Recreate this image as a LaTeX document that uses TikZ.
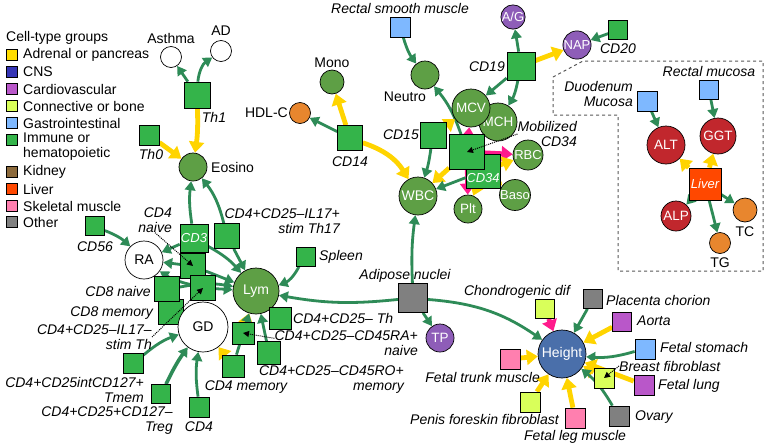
\documentclass[tikz,border=0pt]{standalone}
\usepackage{fontspec}
\setmainfont{Liberation Sans}
\usetikzlibrary{arrows.meta,calc}
\pgfdeclarelayer{bgw}
\pgfdeclarelayer{bg}
\pgfsetlayers{bgw,bg,main}
\definecolor{cAdr}{HTML}{FFDD00}
\definecolor{cCNS}{HTML}{3535B5}
\definecolor{cCard}{HTML}{B957C9}
\definecolor{cConn}{HTML}{D9FF5A}
\definecolor{cGas}{HTML}{7EB8FF}
\definecolor{cImm}{HTML}{34B44A}
\definecolor{cKid}{HTML}{8C6A3C}
\definecolor{cLiv}{HTML}{FF4800}
\definecolor{cSkel}{HTML}{FF7FAF}
\definecolor{cOth}{HTML}{808080}
\definecolor{cBlood}{HTML}{5E9F45}
\definecolor{cOrg}{HTML}{E8862E}
\definecolor{cPur}{HTML}{8E5DB8}
\definecolor{cRed}{HTML}{C1272D}
\definecolor{cHgt}{HTML}{4A6FAA}
\definecolor{eG}{HTML}{2E8B57}
\definecolor{eY}{HTML}{FFD400}
\definecolor{eM}{HTML}{FF1A8C}
\begin{document}
\begin{tikzpicture}[x=1pt,y=-1pt,font=\fontsize{14}{15}\selectfont,
  tr/.style={circle,draw=black,line width=0.7pt,inner sep=0pt,minimum size=#1,text=white,font=\fontsize{13.5}{14}\selectfont},
  wc/.style={circle,draw=black,line width=0.7pt,inner sep=0pt,minimum size=#1,fill=white,text=black,font=\fontsize{14}{14}\selectfont},
  bx/.style={rectangle,draw=black,line width=0.7pt,inner sep=0pt,minimum size=#1},
  lab/.style={inner sep=0pt,font=\fontsize{14}{15}\selectfont\itshape},
  nl/.style={inner sep=0pt},
  ge/.style={draw=eG,line width=2.8pt,-{Triangle[width=10.5pt,length=9pt]}},
  ye/.style={draw=eY,line width=4.8pt,-{Triangle[width=15pt,length=11pt]}},
  me/.style={draw=eM,line width=4.8pt,-{Triangle[width=15pt,length=11pt]}},
  da/.style={densely dotted,line width=1pt,-{Triangle[width=6pt,length=6pt]}}]
\begin{pgfonlayer}{bgw}
\fill[white] (0,0) rectangle (768,445);
\end{pgfonlayer}
\useasboundingbox (0,0) rectangle (768,445);

% legend
\node[nl,anchor=west] (lgT) at (6,38) {Cell-type groups};
\node[bx=11pt,fill=cAdr] (lg1) at (11.5,55) {}; \node[nl,anchor=west] (lt1) at (23,55) {Adrenal or pancreas};
\node[bx=11pt,fill=cCNS] (lg2) at (11.5,72) {}; \node[nl,anchor=west] (lt2) at (23,72) {CNS};
\node[bx=11pt,fill=cCard] (lg3) at (11.5,89) {}; \node[nl,anchor=west] (lt3) at (23,89) {Cardiovascular};
\node[bx=11pt,fill=cConn] (lg4) at (11.5,106) {}; \node[nl,anchor=west] (lt4) at (23,106) {Connective or bone};
\node[bx=11pt,fill=cGas] (lg5) at (11.5,123) {}; \node[nl,anchor=west] (lt5) at (23,123) {Gastrointestinal};
\node[bx=11pt,fill=cImm] (lg6) at (11.5,140) {}; \node[nl,anchor=north west,align=left] (lt6) at (23,133) {Immune or\\hematopoietic};
\node[bx=11pt,fill=cKid] (lg7) at (11.5,172) {}; \node[nl,anchor=west] (lt7) at (23,172) {Kidney};
\node[bx=11pt,fill=cLiv] (lg8) at (11.5,189) {}; \node[nl,anchor=west] (lt8) at (23,189) {Liver};
\node[bx=11pt,fill=cSkel] (lg9) at (11.5,206) {}; \node[nl,anchor=west] (lt9) at (23,206) {Skeletal muscle};
\node[bx=11pt,fill=cOth] (lg10) at (11.5,222) {}; \node[nl,anchor=west] (lt10) at (23,222) {Other};

% top-left
\node[wc=21pt] (Asthma) at (171,57) {}; \node[nl] (tAsthma) at (171,38) {Asthma};
\node[wc=21pt] (AD) at (221,51) {}; \node[nl] (tAD) at (221,31) {AD};
\node[bx=26pt,fill=cImm] (Th1) at (197,95) {}; \node[lab] (tTh1) at (214,117) {Th1};
\node[bx=20pt,fill=cImm] (Th0) at (149,135) {}; \node[lab] (tTh0) at (151,154) {Th0};
\node[tr=28pt,fill=cBlood] (Eos) at (193,167) {}; \node[nl,anchor=west] (tEos) at (211,167) {Eosino};

% RA / GD / Lym cluster
\node[bx=19pt,fill=cImm] (CD56) at (95,226) {}; \node[lab] (tCD56) at (95,247) {CD56};
\node[wc=38pt] (RA) at (144,260) {RA};
\node[lab,align=right,anchor=east] (tCD4n) at (172,220) {CD4\\naive};
\node[bx=25pt,fill=cImm] (CD8m) at (171,312) {}; \node[lab,anchor=east] (tCD8m) at (153,313) {CD8 memory};
\node[bx=25pt,fill=cImm] (CD8n) at (167,289) {}; \node[lab,anchor=east] (tCD8n) at (151,291) {CD8 naive};
\node[bx=25pt,fill=cImm] (CD4n) at (193,266) {};
\node[bx=25pt,fill=cImm] (StTh) at (203,288) {};
\node[bx=28pt,fill=cImm,text=white,font=\fontsize{13}{13}\selectfont\itshape] (CD3) at (194,238) {CD3};
\node[bx=25pt,fill=cImm] (Th17) at (227,236) {};
\node[lab,align=right,anchor=east] (tTh17) at (340,221) {CD4+CD25–IL17+\\stim Th17};
\node[wc=50pt] (GD) at (203,327) {GD};
\node[lab,align=right,anchor=east] (tStTh) at (152,337) {CD4+CD25–IL17–\\stim Th};
\node[bx=20pt,fill=cImm] (Tmem) at (133,363) {}; \node[lab,align=right,anchor=east] (tTmem) at (144,390) {CD4+CD25intCD127+\\Tmem};
\node[bx=19pt,fill=cImm] (Treg) at (161,394) {}; \node[lab,align=right,anchor=east] (tTreg) at (173,421) {CD4+CD25+CD127–\\Treg};
\node[bx=20pt,fill=cImm] (CD4) at (199,407) {}; \node[lab] (tCD4) at (199,427) {CD4};
\node[tr=46pt,fill=cBlood,font=\fontsize{14}{14}\selectfont] (Lym) at (256,291) {Lym};
\node[bx=19pt,fill=cImm] (Spl) at (306,257) {}; \node[lab,anchor=west] (tSpl) at (319,257) {Spleen};
\node[bx=22pt,fill=cImm] (ThSq) at (280,318) {}; \node[lab,anchor=west] (tThSq) at (293,318) {CD4+CD25– Th};
\node[bx=22pt,fill=cImm] (RAsq) at (243,333) {}; \node[lab,align=right,anchor=east] (tRAsq) at (418,343) {CD4+CD25–CD45RA+\\naive};
\node[bx=23pt,fill=cImm] (ROsq) at (269,353) {}; \node[lab,align=right,anchor=east] (tROsq) at (404,380) {CD4+CD25–CD45RO+\\memory};
\node[bx=22pt,fill=cImm] (CD4m) at (233,366) {}; \node[lab] (tCD4m) at (246,387) {CD4 memory};

\node[bx=29pt,fill=cOth] (Adip) at (413,298) {}; \node[lab] (tAdip) at (405,276) {Adipose nuclei};
\node[tr=28pt,fill=cPur] (TP) at (440,338) {TP};

% upper middle
\node[bx=20pt,fill=cGas] (RSM) at (400,27) {}; \node[lab] (tRSM) at (400,8) {Rectal smooth muscle};
\node[tr=28pt,fill=cBlood] (Neu) at (425,75) {}; \node[nl] (tNeu) at (405,97) {Neutro};
\node[tr=24pt,fill=cBlood] (Mono) at (332,82) {}; \node[nl] (tMono) at (332,63) {Mono};
\node[tr=21pt,fill=cOrg] (HDL) at (300,113) {}; \node[nl,anchor=east] (tHDL) at (288,113) {HDL-C};
\node[bx=25pt,fill=cImm] (CD14) at (350,138) {}; \node[lab] (tCD14) at (350,162) {CD14};
\node[bx=26pt,fill=cImm] (CD15) at (433,135) {}; \node[lab,anchor=east] (tCD15) at (419,135) {CD15};
\node[tr=38pt,fill=cBlood,font=\fontsize{14}{14}\selectfont] (WBC) at (418,196) {WBC};
\node[tr=28pt,fill=cBlood] (Plt) at (468,209) {Plt};
\node[tr=30pt,fill=cBlood,font=\fontsize{13}{13}\selectfont] (Baso) at (515,195) {Baso};
\node[tr=30pt,fill=cBlood,font=\fontsize{13}{13}\selectfont] (RBC) at (528,155) {RBC};
\node[tr=38pt,fill=cBlood] (MCH) at (498,122) {MCH};
\node[tr=38pt,fill=cBlood] (MCV) at (471,108) {MCV};
\node[bx=34pt,fill=cImm] (CD34) at (483,171) {};
\node[inner sep=0pt,text=white,font=\fontsize{13}{13}\selectfont\itshape] (tCD34) at (483,178) {CD34};
\node[bx=35pt,fill=cImm] (Big) at (467,152) {};
\node[lab,align=right,anchor=east] (tMob) at (577,134) {Mobilized\\CD34};
\node[tr=24pt,fill=cPur,font=\fontsize{13}{13}\selectfont] (AG) at (513,17) {A/G};
\node[bx=28pt,fill=cImm] (CD19) at (521,66) {}; \node[lab,anchor=east] (tCD19) at (505,67) {CD19};
\node[tr=28pt,fill=cPur,font=\fontsize{13}{13}\selectfont] (NAP) at (577,45) {NAP};
\node[bx=19pt,fill=cImm] (CD20) at (618,30) {}; \node[lab] (tCD20) at (618,49) {CD20};

% liver box
\draw[dashed,draw=black!65,line width=1pt] (553,77) -- (583,61) -- (763,61) -- (763,271) -- (618,271) -- (618,115) -- (553,115) -- cycle;
\node[bx=20pt,fill=cGas] (Duo) at (647,101) {}; \node[lab,align=right,anchor=east] (tDuo) at (633,94) {Duodenum\\Mucosa};
\node[bx=19pt,fill=cGas] (RM) at (709,90) {}; \node[lab] (tRM) at (709,71) {Rectal mucosa};
\node[tr=38pt,fill=cRed] (ALT) at (666,145) {ALT};
\node[tr=36pt,fill=cRed] (GGT) at (718,136) {GGT};
\node[bx=32pt,fill=cLiv,text=white,font=\fontsize{13}{13}\selectfont\itshape] (Liv) at (705,184) {Liver};
\node[tr=30pt,fill=cRed] (ALP) at (676,216) {ALP};
\node[tr=24pt,fill=cOrg] (TC) at (745,210) {}; \node[nl] (tTC) at (745,232) {TC};
\node[tr=21pt,fill=cOrg] (TG) at (720,243) {}; \node[nl] (tTG) at (720,263) {TG};

% height cluster
\node[tr=48pt,fill=cHgt,font=\fontsize{14}{14}\selectfont] (Hgt) at (562,354) {Height};
\node[bx=19pt,fill=cConn] (Cho) at (545,309) {}; \node[lab] (tCho) at (517,292) {Chondrogenic dif};
\node[bx=19pt,fill=cOth] (Pla) at (593,299) {}; \node[lab,anchor=west] (tPla) at (606,300) {Placenta chorion};
\node[bx=19pt,fill=cCard] (Aor) at (622,322) {}; \node[lab,anchor=west] (tAor) at (637,321) {Aorta};
\node[bx=20pt,fill=cGas] (FSt) at (645,349) {}; \node[lab,anchor=west] (tFSt) at (660,347) {Fetal stomach};
\node[bx=20pt,fill=cConn] (BrF) at (604,378) {}; \node[lab,anchor=west] (tBrF) at (619,366) {Breast fibroblast};
\node[bx=20pt,fill=cCard] (FLu) at (644,385) {}; \node[lab,anchor=west] (tFLu) at (658,386) {Fetal lung};
\node[bx=20pt,fill=cOth] (Ova) at (619,416) {}; \node[lab,anchor=west] (tOva) at (635,417) {Ovary};
\node[bx=20pt,fill=cSkel] (FLe) at (575,418) {}; \node[lab] (tFLe) at (575,437) {Fetal leg muscle};
\node[bx=20pt,fill=cConn] (Pen) at (530,402) {}; \node[lab,anchor=east] (tPen) at (559,419) {Penis foreskin fibroblast};
\node[bx=20pt,fill=cSkel] (FTr) at (510,359) {}; \node[lab,anchor=east] (tFTr) at (540,377) {Fetal trunk muscle};

% dotted pointers
\draw[da] (tCD4n.south) -- (CD4n.center);
\draw[da] (tStTh.east) -- (StTh.center);
\draw[da] ($(tRAsq.north west)+(0,8)$) -- (RAsq.center);
\draw[da] (tMob.west) -- (Big.center);
\draw[da] (tBrF.west) -- (BrF.center);

\begin{pgfonlayer}{bg}
% top-left
\draw[ge] (Th1) -- (Asthma);
\draw[ge] (Th1) to[bend left=25] (AD);
\draw[ye] (Th1) to[bend left=5] (Eos);
\draw[ye] (Th0) -- (Eos);
\draw[ge] (CD3) to[bend left=8] (Eos);
\draw[ge] (Th17) to[bend right=12] (Eos);
% RA
\draw[ge] (CD56) to[bend left=10] (RA);
\draw[ge] (CD3) -- (RA);
\draw[ge] (CD4n) -- (RA);
\draw[ge] (StTh) to[bend left=10] (RA);
% Lym
\draw[ge] (CD3) to[bend left=10] (Lym);
\draw[ge] (Th17) -- (Lym);
\draw[ge] (CD4n) -- (Lym);
\draw[ge] (StTh) -- (Lym);
\draw[ge] (CD8n) to[bend left=10] (Lym);
\draw[ge] (Spl) to[bend left=20] (Lym);
\draw[ge] (Adip) to[bend left=8] (Lym);
\draw[ye] (ThSq) -- (Lym);
\draw[ge] (ROsq) -- (Lym);
\draw[ye] (RAsq) -- (Lym);
\draw[ge] (CD4m) -- (Lym);
% GD
\draw[ge] (Tmem) to[bend left=10] (GD);
\draw[ge,line width=3.6pt] (Treg) to[bend left=5] (GD);
\draw[ge] (CD4) to[bend left=8] (GD);
\draw[ye] (CD4m) -- (GD);
% adipose
\draw[ge] (Adip) to[bend left=5] (WBC);
\draw[ge] (Adip) -- (TP);
\draw[ge] (Adip) to[bend left=15] (Hgt);
% upper middle
\draw[ge] (RSM) to[bend right=10] (Neu);
\draw[ye] (CD14) -- (Mono);
\draw[ge] (CD14) -- (HDL);
\draw[ye] (CD14) to[bend left=20] (WBC);
\draw[ge] (CD15) to[bend left=5] (WBC);
\draw[ge] (Big) to[bend right=10] (Neu);
\draw[ye] (CD15) -- (MCV);
\draw[me] (Big) -- (MCV);
\draw[me] (Big) -- (MCH);
\draw[me] (Big) -- (RBC);
\draw[me] (Big) -- (Plt);
\draw[ye] (Big) -- (WBC);
\draw[ge] (CD34) -- (WBC);
\draw[ye] (CD34) -- (RBC);
\draw[ye] (CD34) -- (Baso);
\draw[ye] (CD34) -- (Plt);
\draw[ge] (CD19) -- (AG);
\draw[ge] (CD19) -- (MCV);
\draw[ge] (CD19) to[bend left=10] (MCH);
\draw[ye] (CD19) -- (NAP);
\draw[ge] (CD20) -- (NAP);
% liver
\draw[ge] (Duo) -- (ALT);
\draw[ge] (RM) -- (GGT);
\draw[ye] (Liv) -- (ALT);
\draw[ye] (Liv) -- (GGT);
\draw[ge] (Liv) -- (ALP);
\draw[ge] (Liv) -- (TC);
\draw[ge] (Liv) -- (TG);
% height
\draw[me] (Cho) -- (Hgt);
\draw[ge] (Pla) -- (Hgt);
\draw[ye] (Aor) -- (Hgt);
\draw[ge] (FSt) to[bend left=10] (Hgt);
\draw[ye] (FLu) -- (Hgt);
\draw[ye] (BrF) -- (Hgt);
\draw[ge] (Ova) to[bend right=10] (Hgt);
\draw[ye] (FLe) -- (Hgt);
\draw[ye] (Pen) -- (Hgt);
\draw[ye] (FTr) -- (Hgt);
\end{pgfonlayer}
\end{tikzpicture}
\end{document}
